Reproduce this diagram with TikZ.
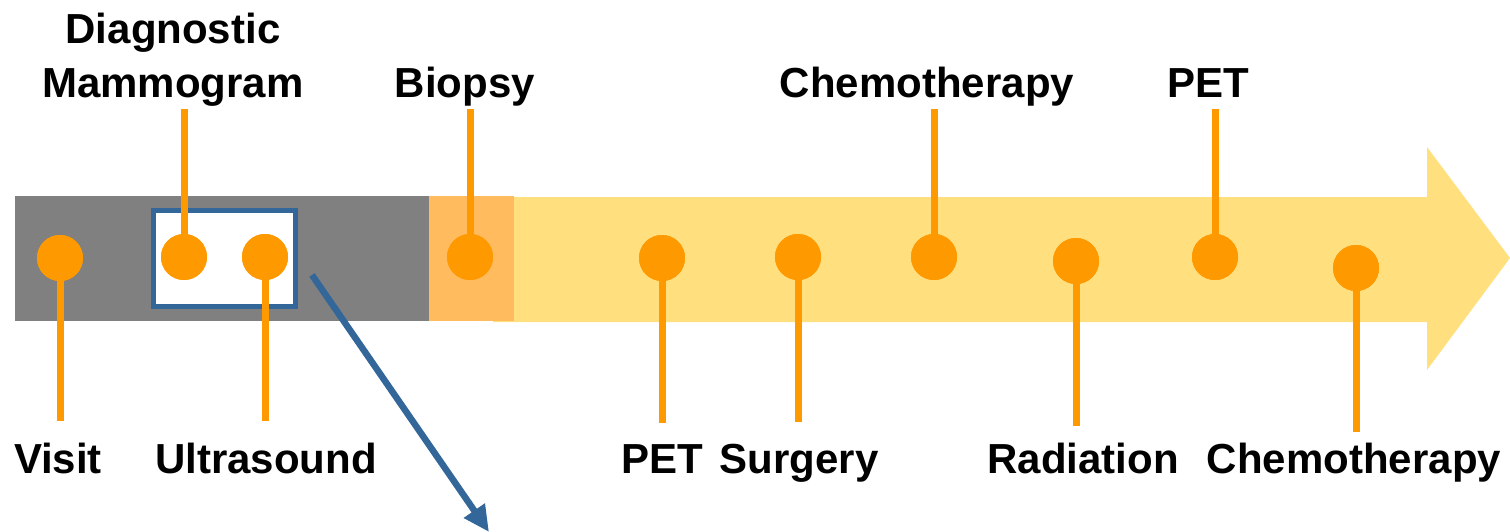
\documentclass[tikz,border=0pt]{standalone}
\usepackage{fontspec}
\setmainfont{Liberation Sans}
\usetikzlibrary{arrows.meta}
\definecolor{dotor}{HTML}{FF9900}
\definecolor{barg}{HTML}{808080}
\definecolor{bary}{HTML}{FFDF7E}
\definecolor{baro}{HTML}{FFBB5E}
\definecolor{boxb}{HTML}{336699}
\tikzset{
  dot/.style={circle,fill=dotor,draw=none,minimum size=46pt,inner sep=0pt},
  stem/.style={draw=dotor,line width=7pt},
  lbl/.style={font=\bfseries\fontsize{42}{54}\selectfont,inner sep=0pt,anchor=base,align=center},
  bluearrow/.style={draw=boxb,line width=6.5pt,-{Triangle[length=26pt,width=24pt]}},
}
\begin{document}
\begin{tikzpicture}[x=1pt,y=-1pt]
\useasboundingbox (0,0) rectangle (1510,532);
% bars
\fill[barg] (15,196) rectangle (429,321);
\fill[bary] (493,197) -- (1427,197) -- (1427,147) -- (1510,258) -- (1427,370) -- (1427,322) -- (493,322) -- cycle;
\fill[baro] (429,196) rectangle (514,321);
\draw[boxb,fill=white,line width=5pt] (153.5,210.5) rectangle (295.5,306.5);
% dots
\node[dot] (visit) at (60,258) {};
\node[dot] (dm) at (184,257) {};
\node[dot] (us) at (265,257) {};
\node[dot] (biopsy) at (470,257) {};
\node[dot] (pet1) at (662,258) {};
\node[dot] (surg) at (798,257) {};
\node[dot] (chemo1) at (934,257) {};
\node[dot] (rad) at (1076,261) {};
\node[dot] (pet2) at (1215,257) {};
\node[dot] (chemo2) at (1356,268) {};
% stem ends
\coordinate (visitE) at (60,421);
\coordinate (dmE) at (184,109);
\coordinate (usE) at (265,421);
\coordinate (biopsyE) at (470,109);
\coordinate (pet1E) at (662,423);
\coordinate (surgE) at (798,422);
\coordinate (chemo1E) at (934,109);
\coordinate (radE) at (1076,426);
\coordinate (pet2E) at (1215,109);
\coordinate (chemo2E) at (1356,432);
\foreach \d in {visit,dm,us,biopsy,pet1,surg,chemo1,rad,pet2,chemo2}
  \draw[stem] (\d.center) -- (\d E);
\foreach \d in {visit,dm,us,biopsy,pet1,surg,chemo1,rad,pet2,chemo2}
  \node[dot] at (\d) {};
% labels
\node[lbl] (lvisit) at (58,473) {Visit};
\node[lbl] (lus) at (266,473) {Ultrasound};
\node[lbl] (lpet1) at (662,473) {PET};
\node[lbl] (lsurg) at (799,473) {Surgery};
\node[lbl] (lrad) at (1083,473) {Radiation};
\node[lbl] (lchemo2) at (1354,473) {Chemotherapy};
\node[lbl] (ldm) at (173,98) {Diagnostic\\Mammogram};
\node[lbl] (lbiopsy) at (465,98) {Biopsy};
\node[lbl] (lchemo1) at (927,98) {Chemotherapy};
\node[lbl] (lpet2) at (1208,98) {PET};
% blue arrow
\coordinate (bs) at (312,275);
\coordinate (be) at (489,532);
\draw[bluearrow] (bs) -- (be);
\end{tikzpicture}
\end{document}
